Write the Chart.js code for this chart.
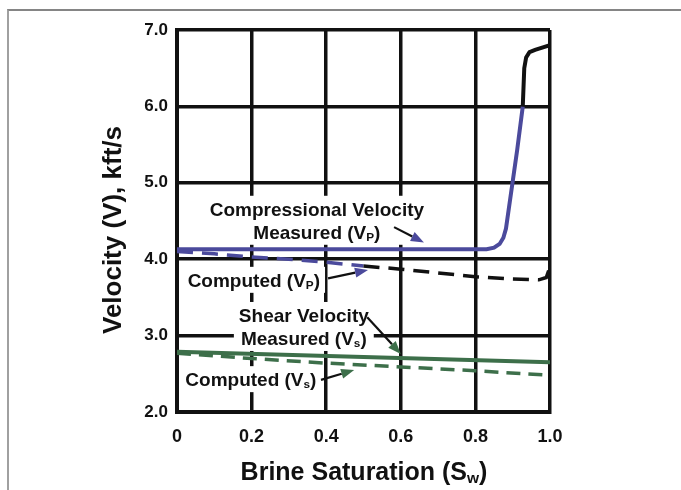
<!DOCTYPE html>
<html>
<head>
<meta charset="utf-8">
<script src="https://cdn.jsdelivr.net/npm/chart.js@4.4.1/dist/chart.umd.min.js"></script>
<style>
  html, body { margin: 0; padding: 0; background: #fff; }
  #wrap { position: relative; width: 681px; height: 490px; }
  #frame { position: absolute; left: 7px; top: 9px; right: 0; bottom: 0;
           border-left: 2px solid #a0a0a0; border-top: 2px solid #858585; pointer-events: none; }
  canvas { position: absolute; left: 0; top: 0; }
</style>
</head>
<body>
<div id="wrap">
  <canvas id="velChart" width="681" height="490"></canvas>
  <div id="frame"></div>
</div>
<script>
// brine saturation (x) and velocity in kft/s (y)
const measuredVpSw = [0, 0.3, 0.6, 0.83, 0.85, 0.865, 0.875, 0.882, 0.912, 0.927, 0.931, 0.936, 0.945, 0.96, 1.0];
const measuredVp   = [4.13, 4.13, 4.13, 4.13, 4.15, 4.2, 4.28, 4.4, 5.43, 6.0, 6.5, 6.64, 6.71, 6.74, 6.8];

const computedVpSw = [0, 0.1, 0.2, 0.3, 0.4, 0.5, 0.6, 0.7, 0.8, 0.9, 0.97, 0.99, 1.0, 1.0];
const computedVp   = [4.1, 4.07, 4.03, 4.0, 3.96, 3.91, 3.87, 3.82, 3.77, 3.74, 3.73, 3.76, 3.9, 5.5];

const measuredVsSw = [0, 0.5, 1.0];
const measuredVs   = [2.79, 2.72, 2.65];

const computedVsSw = [0, 0.2, 0.4, 0.6, 0.8, 1.0];
const computedVs   = [2.77, 2.7, 2.64, 2.59, 2.54, 2.48];

const xTicks = [0, 0.2, 0.4, 0.6, 0.8, 1.0];
const yTicks = [2.0, 3.0, 4.0, 5.0, 6.0, 7.0];

const FONT = '"Liberation Sans", Arial, Helvetica, sans-serif';
const BLUE = '#4b4a9c';
const GREEN = '#3d6f4a';

const pts = (xs, ys) => xs.map((x, i) => ({ x: x, y: ys[i] }));

// labels and arrows, placed in data units
const notes = [
  { x: 0.375, y: 4.66, lines: [[['Compressional Velocity']], [['Measured (V'], ['P', true], [')']]] },
  { x: 0.206, y: 3.73, lines: [[['Computed (V'], ['P', true], [')']]] },
  { x: 0.340, y: 3.27, lines: [[['Shear Velocity']], [['Measured (V'], ['s', true], [')']]] },
  { x: 0.198, y: 2.43, lines: [[['Computed (V'], ['s', true], [')']]] }
];
const arrows = [
  { from: [0.582, 4.42], to: [0.662, 4.22], color: BLUE },
  { from: [0.405, 3.75], to: [0.512, 3.86], color: BLUE },
  { from: [0.510, 3.24], to: [0.600, 2.76], color: GREEN },
  { from: [0.386, 2.42], to: [0.475, 2.55], color: GREEN }
];

function richWidth(ctx, parts, size) {
  let w = 0;
  parts.forEach(p => {
    ctx.font = 'bold ' + (p[1] ? size * 0.62 : size) + 'px ' + FONT;
    w += ctx.measureText(p[0]).width;
  });
  return w;
}

function drawRich(ctx, parts, cx, cy, size) {
  const total = richWidth(ctx, parts, size);
  let x = cx - total / 2;
  ctx.textAlign = 'left';
  ctx.textBaseline = 'alphabetic';
  ctx.fillStyle = '#111';
  parts.forEach(p => {
    const s = p[1] ? size * 0.62 : size;
    ctx.font = 'bold ' + s + 'px ' + FONT;
    ctx.fillText(p[0], x, cy + size * 0.36 + (p[1] ? size * 0.12 : 0));
    x += ctx.measureText(p[0]).width;
  });
}

const notesPlugin = {
  id: 'notes',
  beforeDatasetsDraw(chart) {
    const ctx = chart.ctx, xs = chart.scales.x, ys = chart.scales.y;
    const size = 19, gap = 23;
    ctx.save();
    notes.forEach(n => {
      const cx = xs.getPixelForValue(n.x), cy = ys.getPixelForValue(n.y);
      const w = Math.max(...n.lines.map(l => richWidth(ctx, l, size))) + 10;
      const h = gap * (n.lines.length - 1) + 26;
      ctx.fillStyle = '#fff';
      ctx.fillRect(cx - w / 2, cy - 13, w, h);
      n.lines.forEach((l, i) => drawRich(ctx, l, cx, cy + i * gap, size));
    });
    ctx.restore();
  },
  afterDatasetsDraw(chart) {
    const ctx = chart.ctx, xs = chart.scales.x, ys = chart.scales.y;
    ctx.save();
    arrows.forEach(a => {
      const x0 = xs.getPixelForValue(a.from[0]), y0 = ys.getPixelForValue(a.from[1]);
      const x1 = xs.getPixelForValue(a.to[0]), y1 = ys.getPixelForValue(a.to[1]);
      const ang = Math.atan2(y1 - y0, x1 - x0);
      const bx = x1 - 13 * Math.cos(ang), by = y1 - 13 * Math.sin(ang);
      ctx.strokeStyle = '#111';
      ctx.lineWidth = 2.2;
      ctx.beginPath();
      ctx.moveTo(x0, y0);
      ctx.lineTo(bx, by);
      ctx.stroke();
      ctx.fillStyle = a.color;
      ctx.beginPath();
      ctx.moveTo(x1, y1);
      ctx.lineTo(bx + 5 * Math.sin(ang), by - 5 * Math.cos(ang));
      ctx.lineTo(bx - 5 * Math.sin(ang), by + 5 * Math.cos(ang));
      ctx.closePath();
      ctx.fill();
    });
    ctx.restore();
  },
  afterDraw(chart) {
    const ctx = chart.ctx;
    ctx.save();
    drawRich(ctx, [['Brine Saturation (S'], ['w', true], [')']], 364, 471, 25);
    ctx.translate(112, 230);
    ctx.rotate(-Math.PI / 2);
    drawRich(ctx, [['Velocity (V), kft/s']], 0, 0, 26);
    ctx.restore();
  }
};

new Chart(document.getElementById('velChart'), {
  type: 'line',
  data: {
    datasets: [
      {
        label: 'Measured Vp',
        data: pts(measuredVpSw, measuredVp),
        borderWidth: 4,
        borderColor: BLUE,
        segment: { borderColor: c => c.p0.parsed.x >= 0.927 ? '#111' : BLUE }
      },
      {
        label: 'Computed Vp',
        data: pts(computedVpSw, computedVp),
        borderWidth: 3.5,
        borderDash: [16, 9],
        borderColor: BLUE,
        segment: { borderColor: c => c.p0.parsed.x >= 0.5 ? '#111' : BLUE }
      },
      {
        label: 'Measured Vs',
        data: pts(measuredVsSw, measuredVs),
        borderWidth: 4,
        borderColor: GREEN
      },
      {
        label: 'Computed Vs',
        data: pts(computedVsSw, computedVs),
        borderWidth: 3.5,
        borderDash: [14, 8],
        borderColor: GREEN,
        segment: { borderColor: c => c.p0.parsed.x >= 0.9 ? '#111' : GREEN }
      }
    ]
  },
  options: {
    responsive: false,
    animation: false,
    devicePixelRatio: 1,
    layout: { padding: { left: 0, right: 131, top: 30, bottom: 0 } },
    elements: { point: { radius: 0 }, line: { tension: 0 } },
    plugins: { legend: { display: false }, tooltip: { enabled: false } },
    scales: {
      x: {
        type: 'linear',
        min: 0,
        max: 1,
        afterFit: s => { s.height = 78; },
        afterBuildTicks: s => { s.ticks = xTicks.map(v => ({ value: v })); },
        grid: { color: '#111', lineWidth: 3.5, drawTicks: false },
        border: { color: '#111', width: 4 },
        ticks: {
          padding: 14,
          color: '#111',
          font: { family: FONT, size: 18, weight: 'bold' },
          callback: v => v === 0 ? '0' : v.toFixed(1)
        }
      },
      y: {
        type: 'linear',
        min: 2,
        max: 7,
        afterFit: s => { s.width = 177; },
        afterBuildTicks: s => { s.ticks = yTicks.map(v => ({ value: v })); },
        grid: { color: '#111', lineWidth: 3.5, drawTicks: false },
        border: { color: '#111', width: 4 },
        ticks: {
          padding: 9,
          color: '#111',
          font: { family: FONT, size: 17, weight: 'bold' },
          callback: v => v.toFixed(1)
        }
      }
    }
  },
  plugins: [notesPlugin]
});
</script>
</body>
</html>
